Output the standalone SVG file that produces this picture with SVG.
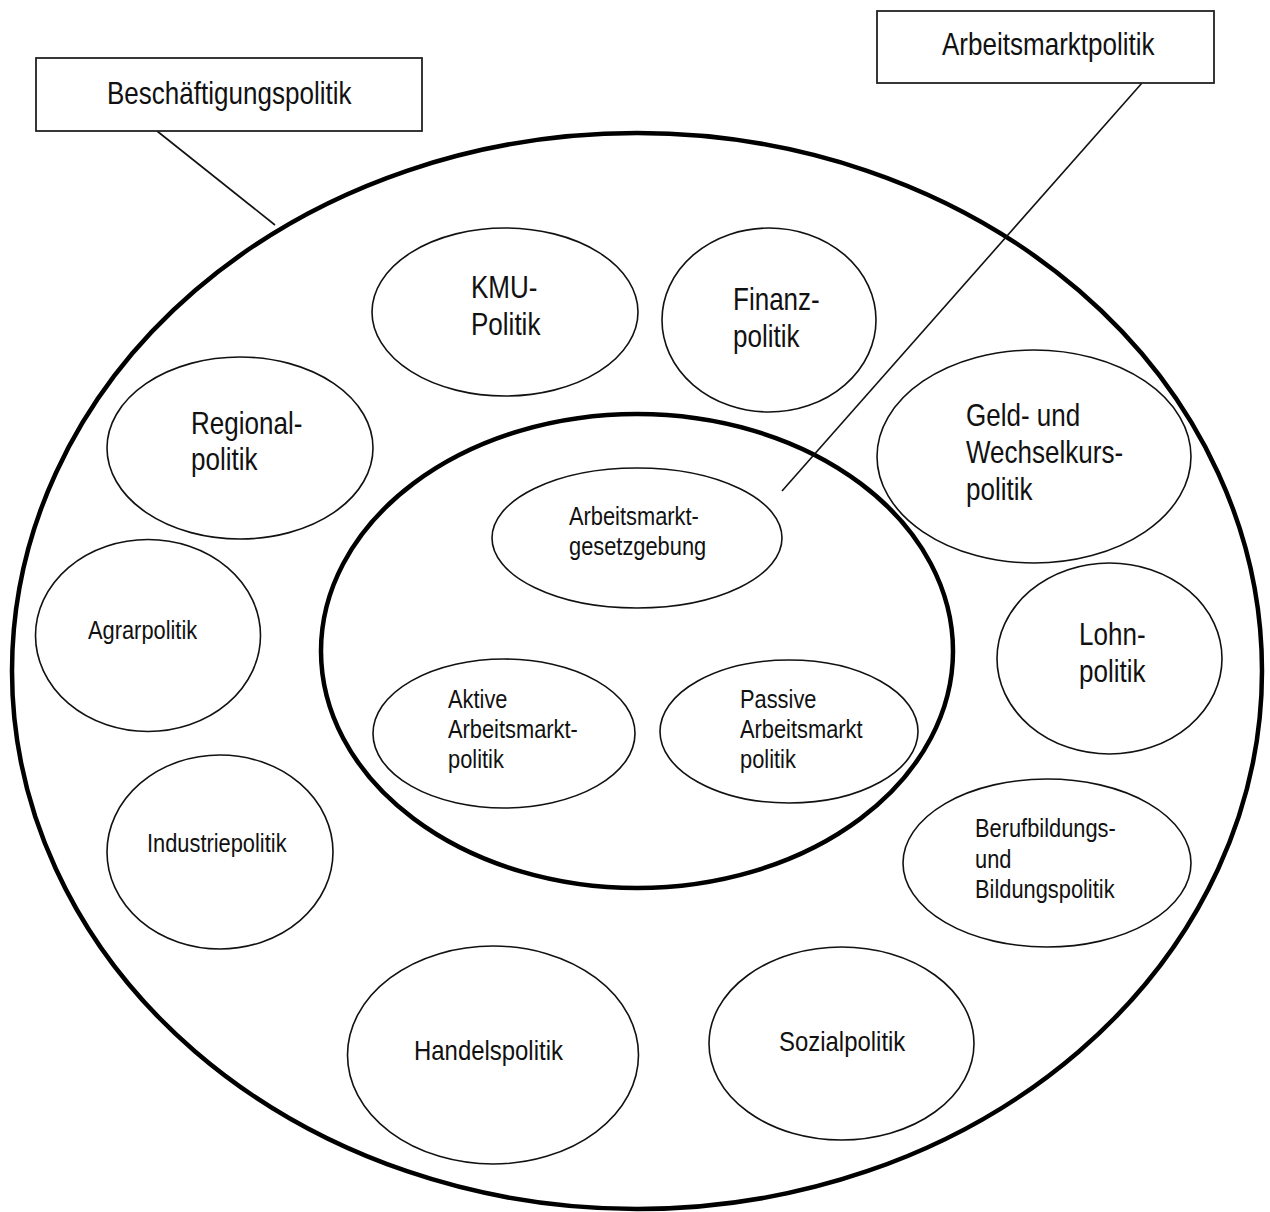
<svg xmlns="http://www.w3.org/2000/svg" width="1270" height="1212" viewBox="0 0 1270 1212">
<style>
text{font-family:"Liberation Sans Narrow","Liberation Sans",Arial,sans-serif;fill:#111;}
.big{font-size:31px;}
.mid{font-size:28.5px;}
.sm{font-size:26px;}
.node{fill:#fff;stroke:#111;stroke-width:1.6;}
.ring{fill:none;stroke:#000;stroke-width:4.5;}
.box{fill:#fff;stroke:#222;stroke-width:1.8;}
.conn{stroke:#111;stroke-width:1.6;fill:none;}
</style>
<rect width="1270" height="1212" fill="#fff"/>
<g id="outer"><ellipse class="ring" cx="637" cy="671" rx="625" ry="538"/></g>
<g id="inner"><ellipse class="ring" cx="637" cy="651" rx="316" ry="237"/></g>
<g id="connectors">
<line class="conn" x1="157" y1="131" x2="275" y2="225"/>
<line class="conn" x1="1142" y1="83" x2="782" y2="491"/>
</g>
<g id="box-beschaeftigung"><rect class="box" x="36" y="58" width="386" height="73"/><text class="big" transform="translate(107,104) scale(0.84,1)">Beschäftigungspolitik</text></g>
<g id="box-arbeitsmarkt"><rect class="box" x="877" y="11" width="337" height="72"/><text class="big" transform="translate(942,55) scale(0.84,1)">Arbeitsmarktpolitik</text></g>
<g id="kmu"><ellipse class="node" cx="505" cy="312" rx="133" ry="84"/><text class="big" transform="translate(471,298) scale(0.84,1)">KMU-</text><text class="big" transform="translate(471,335) scale(0.84,1)">Politik</text></g>
<g id="finanz"><ellipse class="node" cx="769" cy="320" rx="107" ry="92"/><text class="big" transform="translate(733,310) scale(0.84,1)">Finanz-</text><text class="big" transform="translate(733,347) scale(0.84,1)">politik</text></g>
<g id="regional"><ellipse class="node" cx="240" cy="448" rx="133" ry="91"/><text class="big" transform="translate(191,434) scale(0.84,1)">Regional-</text><text class="big" transform="translate(191,470) scale(0.84,1)">politik</text></g>
<g id="geld"><ellipse class="node" cx="1034" cy="456.5" rx="157" ry="106.5"/><text class="big" transform="translate(966,426) scale(0.84,1)">Geld- und</text><text class="big" transform="translate(966,463) scale(0.84,1)">Wechselkurs-</text><text class="big" transform="translate(966,500) scale(0.84,1)">politik</text></g>
<g id="agrar"><ellipse class="node" cx="148" cy="635.5" rx="112.5" ry="96"/><text class="sm" transform="translate(88,639) scale(0.84,1)">Agrarpolitik</text></g>
<g id="lohn"><ellipse class="node" cx="1109.5" cy="658.5" rx="112.5" ry="95.5"/><text class="big" transform="translate(1079,645) scale(0.84,1)">Lohn-</text><text class="big" transform="translate(1079,682) scale(0.84,1)">politik</text></g>
<g id="industrie"><ellipse class="node" cx="220" cy="852" rx="113" ry="97"/><text class="sm" transform="translate(147,852) scale(0.84,1)">Industriepolitik</text></g>
<g id="beruf"><ellipse class="node" cx="1047" cy="863" rx="144" ry="84"/><text class="sm" transform="translate(975,837) scale(0.84,1)">Berufbildungs-</text><text class="sm" transform="translate(975,868) scale(0.84,1)">und</text><text class="sm" transform="translate(975,898) scale(0.84,1)">Bildungspolitik</text></g>
<g id="handel"><ellipse class="node" cx="493" cy="1055" rx="145.5" ry="109"/><text class="mid" transform="translate(414,1060) scale(0.84,1)">Handelspolitik</text></g>
<g id="sozial"><ellipse class="node" cx="841.5" cy="1043.5" rx="132.5" ry="96.5"/><text class="mid" transform="translate(779,1051) scale(0.84,1)">Sozialpolitik</text></g>
<g id="gesetz"><ellipse class="node" cx="637" cy="538" rx="145" ry="70"/><text class="sm" transform="translate(569,525) scale(0.84,1)">Arbeitsmarkt-</text><text class="sm" transform="translate(569,555) scale(0.84,1)">gesetzgebung</text></g>
<g id="aktive"><ellipse class="node" cx="504" cy="733.5" rx="131" ry="74.5"/><text class="sm" transform="translate(448,708) scale(0.84,1)">Aktive</text><text class="sm" transform="translate(448,738) scale(0.84,1)">Arbeitsmarkt-</text><text class="sm" transform="translate(448,768) scale(0.84,1)">politik</text></g>
<g id="passive"><ellipse class="node" cx="789" cy="731.5" rx="129" ry="71.5"/><text class="sm" transform="translate(740,708) scale(0.84,1)">Passive</text><text class="sm" transform="translate(740,738) scale(0.84,1)">Arbeitsmarkt</text><text class="sm" transform="translate(740,768) scale(0.84,1)">politik</text></g>
</svg>
